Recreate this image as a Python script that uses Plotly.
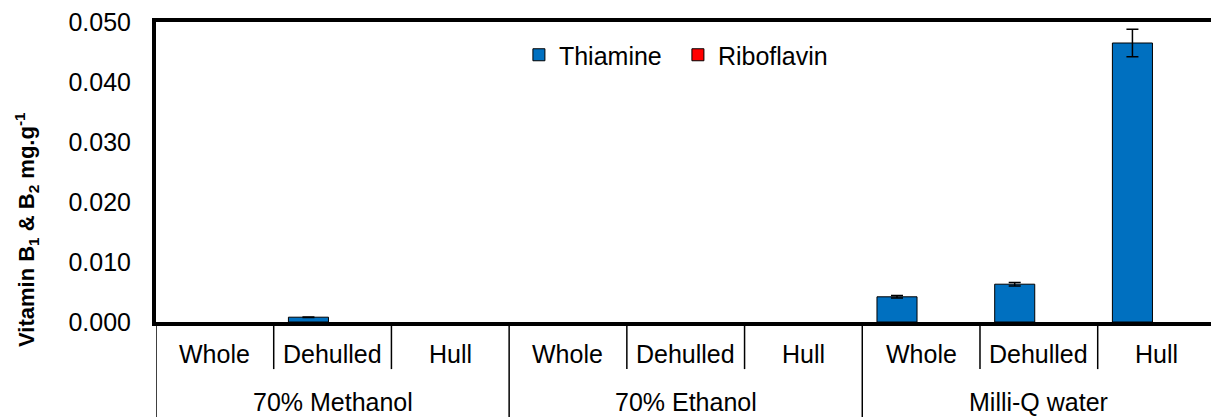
import plotly.graph_objects as go

# Extraction solvents and sample fractions
solvents = ["70% Methanol", "70% Ethanol", "Milli-Q water"]
fractions = ["Whole", "Dehulled", "Hull"]

# Vitamin content (mg/g), ordered solvent by solvent, fraction by fraction
thiamine = [0.0, 0.0008, 0.0, 0.0, 0.0, 0.0, 0.0042, 0.0063, 0.0465]
thiamine_err = [0.0, 0.00005, 0.0, 0.0, 0.0, 0.0, 0.0002, 0.0003, 0.0023]
riboflavin = [0.0, 0.0, 0.0, 0.0, 0.0, 0.0, 0.0, 0.0, 0.0]
riboflavin_err = [0.0, 0.0, 0.0, 0.0, 0.0, 0.0, 0.0, 0.0, 0.0]

y_ticks = [0.0, 0.01, 0.02, 0.03, 0.04, 0.05]

FONT = "Arial, Liberation Sans, sans-serif"
W, H = 1211, 417
ML, MT, MB = 156, 22, 95

cats = [f"{s}|{f}" for s in solvents for f in fractions]
idx = list(range(len(cats)))


def nonzero(values):
    # a zero reading leaves the slot empty (no outline or error cap on the baseline)
    return [v if v > 0 else None for v in values]


def err_for(values, errs):
    return [e if v > 0 else None for v, e in zip(values, errs)]


fig = go.Figure()
fig.add_trace(go.Bar(
    x=idx, y=nonzero(thiamine), name="Thiamine",
    marker=dict(color="#0070C0", line=dict(color="black", width=1)),
    error_y=dict(type="data", array=err_for(thiamine, thiamine_err), visible=True,
                 color="black", thickness=1.5, width=6),
))
fig.add_trace(go.Bar(
    x=idx, y=nonzero(riboflavin), name="Riboflavin",
    marker=dict(color="#FF0000", line=dict(color="black", width=1)),
    error_y=dict(type="data", array=err_for(riboflavin, riboflavin_err), visible=True,
                 color="black", thickness=1.5, width=6),
))

# category labels and divider lines beneath the value axis
shapes = []
annotations = []
for i, c in enumerate(cats):
    solvent, fraction = c.split("|")
    annotations.append(dict(x=i, y=-0.107, xref="x", yref="paper",
                            text=fraction, showarrow=False,
                            font=dict(size=25, color="black", family=FONT),
                            xanchor="center", yanchor="middle"))
    within = i % len(fractions) != 0
    shapes.append(dict(type="line", xref="x", yref="paper",
                       x0=i - 0.5, x1=i - 0.5, y0=0,
                       y1=-0.157 if within else -0.34,
                       line=dict(color="black", width=1.5)))
for j, s in enumerate(solvents):
    annotations.append(dict(x=j * len(fractions) + 1, y=-0.265, xref="x", yref="paper",
                            text=s, showarrow=False,
                            font=dict(size=25, color="black", family=FONT),
                            xanchor="center", yanchor="middle"))

annotations.append(dict(
    x=-0.1223, y=0.31, xref="paper", yref="paper",
    text="<b>Vitamin B<sub>1</sub> & B<sub>2</sub> mg.g<sup>-1</sup></b>",
    textangle=-90, showarrow=False,
    font=dict(size=22, color="black", family=FONT),
    xanchor="center", yanchor="middle"))

fig.update_layout(
    width=W, height=H,
    margin=dict(l=ML, r=0, t=MT, b=MB, pad=0),
    paper_bgcolor="white", plot_bgcolor="white",
    barmode="group", bargap=0.18, bargroupgap=0.17,
    font=dict(family=FONT, size=25, color="black"),
    showlegend=True,
    legend=dict(orientation="h", x=0.344, y=0.89, xanchor="left", yanchor="middle",
                font=dict(size=25, color="black", family=FONT),
                bgcolor="rgba(0,0,0,0)", itemwidth=30,
                entrywidth=114, entrywidthmode="pixels"),
    shapes=shapes,
    annotations=annotations,
)
fig.update_xaxes(range=[-0.5, 8.4625], showticklabels=False, ticks="",
                 showgrid=False, zeroline=False,
                 showline=True, linecolor="black", linewidth=4, mirror=True)
fig.update_yaxes(range=[0, 0.05], tickvals=y_ticks, tickformat=".3f",
                 ticks="", showgrid=False, zeroline=False,
                 showline=True, linecolor="black", linewidth=4,
                 ticklabelstandoff=16,
                 tickfont=dict(size=25, color="black", family=FONT))

fig.write_html("out.html")
